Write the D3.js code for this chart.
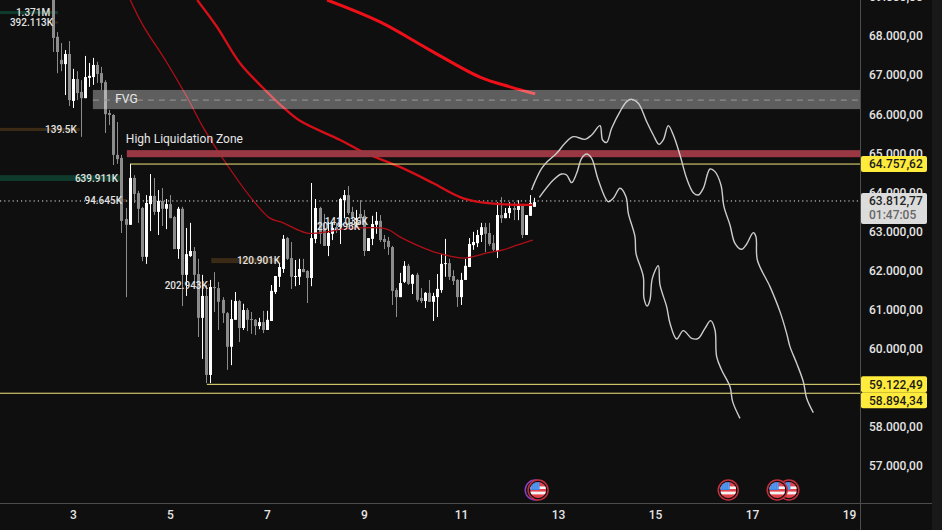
<!DOCTYPE html>
<html>
<head>
	<meta charset="utf-8">
	<style>
		html, body {
			margin: 0;
			background: #0f0f0f;
			overflow: hidden;
		}

		svg {
			display: block;
			font-family: "Open Sans", sans-serif;
		}

		.axis path, .axis line {
			display: none;
		}

		.axis text {
			font: 500 12px Roboto, sans-serif;
			fill: #e4e4e4;
		}

		.volume text {
			font: 500 10px Roboto, sans-serif;
			fill: #e2e2e2;
		}

		.note {
			font: 400 12px Roboto, sans-serif;
			fill: #e8e8e8;
		}

		.tagText {
			font: 500 12px Roboto, sans-serif;
		}
	</style>
</head>

<body>
	<svg width="942" height="530"></svg>
	<script src="https://d3js.org/d3.v7.min.js"></script>
	<script>
		// 2h candles
		var firstCandleDay = 2.5833, candleStep = 1 / 12;

		var highs = [69500, 68100, 67820, 67640, 67870, 67160, 67100, 66870, 67490, 67310, 67440, 67340, 67210,
			66870, 66110, 66000, 65800, 64960, 63600, 64730, 64440, 64040, 63630, 63930, 64470, 64370, 64060, 64110, 63830, 63930, 63400, 63630, 63630, 63090, 63220, 62600,
			62300, 61890, 61630, 61760, 61960, 61710, 61320, 60940, 61250, 61450, 61250, 61150, 61040, 60940, 60760, 60790, 60970, 60970, 61630, 61860, 62190, 62910, 62860,
			62730, 62270, 62300, 62300, 62010, 64240, 63830, 63630, 63450, 63240, 63240, 63220, 63860, 64060, 64160, 63630, 63550, 63800, 63550, 62830, 63400, 63500, 63420,
			62910, 62860, 62630, 61550, 61940, 62240, 62170, 61910, 61940, 61550, 61450, 61760, 61430, 61910, 62420, 62810, 62300, 62010, 61780, 61940, 62300, 62830, 62990, 63040, 63220,
			63220, 63220, 62910, 63750, 63880, 63600, 63750, 63750, 63800, 63680, 63420, 63930, 63860];
		var opens = [69300, 67980, 67390, 67280, 67540, 66340, 66900, 66570, 66410, 66930, 66950, 67260, 67050,
			66820, 66030, 65980, 64960, 64880, 63320, 63170, 64370, 63980, 63600, 62350, 63700, 63910, 63500, 63780, 63580, 63700, 63370, 62550, 63580, 61890, 62370, 62500,
			61910, 60790, 61350, 59330, 61580, 61550, 61250, 60910, 60050, 60740, 61220, 60530, 60990, 60760, 60740, 60580, 60680, 60480, 60710, 61450, 61840, 62040, 62830,
			62320, 61840, 61840, 62040, 61990, 61810, 62810, 63600, 63090, 62630, 62940, 63110, 63110, 63800, 63930, 63500, 63290, 63450, 63400, 62500, 62810, 63170, 63270,
			62810, 62760, 62600, 61500, 61320, 61710, 62120, 61660, 61890, 61300, 61220, 61430, 61200, 61320, 61500, 62170, 62190, 61860, 61760, 61320, 61760, 62090, 62650, 62700, 62910,
			63110, 62960, 62700, 62500, 63420, 63340, 63470, 63600, 63550, 63650, 62910, 63400, 63630];
		var closes = [67950, 67590, 67280, 67540, 66360, 66900, 66540, 66410, 66950, 66980, 67260, 67030, 66800,
			66000, 65980, 64960, 64850, 63270, 63170, 64370, 63960, 63580, 62350, 63730, 63910, 63500, 63780, 63580, 63700, 63340, 62550, 63580, 61890, 62420, 62500, 61890,
			60790, 61350, 59330, 61580, 61550, 61200, 60910, 60050, 60760, 61220, 60530, 60990, 60740, 60740, 60580, 60680, 60480, 60740, 61480, 61860, 62090, 62810, 62300,
			61840, 61860, 62040, 61960, 61810, 62830, 63600, 62940, 62630, 62960, 63090, 63040, 63830, 63930, 63470, 63370, 63340, 63340, 62500, 62830, 63190, 63270, 62780,
			62730, 62600, 61480, 61320, 61680, 62120, 61660, 61890, 61250, 61220, 61430, 61200, 61350, 61530, 62170, 62190, 61840, 61730, 61320, 61760, 62120, 62680, 62730, 62910, 63110,
			62940, 62680, 62530, 63420, 63340, 63470, 63600, 63550, 63650, 62910, 63420, 63730, 63750];
		var lows = [67590, 67050, 67100, 66490, 66210, 66160, 66360, 65420, 66410, 66700, 66750, 66800, 66620,
			65520, 65720, 64700, 64730, 62960, 61320, 63170, 63730, 63220, 62240, 62170, 63010, 63420, 62910, 63140, 63060, 63340, 62550, 62300, 61090, 61350, 62350, 61680,
			60300, 59740, 59120, 59120, 60940, 60480, 60660, 59460, 59580, 60740, 60170, 60480, 60450, 60380, 60350, 60500, 60400, 60480, 60710, 61400, 61580, 61940, 62270,
			61530, 61600, 61630, 61960, 61170, 61600, 62700, 62680, 62630, 62370, 62780, 62960, 62680, 63340, 63420, 63170, 63090, 63170, 62370, 62500, 62650, 62940, 62730,
			62550, 62400, 61120, 60810, 61320, 61680, 61630, 61400, 61200, 61170, 61040, 61200, 60710, 60810, 61430, 61840, 61760, 61630, 61070, 61120, 61760, 62090, 62530, 62600, 62730,
			62470, 62630, 62500, 62320, 63220, 63340, 63340, 63290, 63290, 62830, 62910, 63400, 63630];

		// moving averages, thin to thick
		var maFastDays = [4.18, 4.44, 4.94, 5.35, 5.68, 6.18, 6.71, 7.06, 7.33, 7.82, 8.24, 8.57, 9.47, 9.74, 10.09, 10.51, 11.08, 11.54, 11.87, 12.15, 12.48];
		var maFast = [68920, 68280, 67310, 66440, 65670, 64700, 63800, 63340, 63220, 62960, 62990, 63060, 63060, 62860, 62650, 62450, 62320, 62450, 62530, 62650, 62780];
		var maMidDays = [5.56, 5.97, 6.44, 6.92, 7.33, 7.68, 8.51, 9.02, 9.74, 10.42, 10.98, 11.39, 11.8, 12.48];
		var maMid = [68920, 68230, 67310, 66670, 66180, 65830, 65340, 65010, 64650, 64240, 63880, 63750, 63700, 63680];
		var maSlowDays = [8.24, 9.33, 10.36, 11.39, 12.01, 12.53];
		var maSlow = [68920, 68360, 67640, 66950, 66700, 66520];

		// hand drawn projections
		var pathADays = [12.456, 12.525, 12.663, 12.8, 12.972, 13.144, 13.316, 13.556, 13.694, 13.866, 13.92, 14.003, 14.106, 14.278, 14.415, 14.518, 14.656, 14.828, 14.965, 15.082, 15.171, 15.274, 15.378, 15.515, 15.652, 15.79, 15.893, 15.996, 16.134, 16.237, 16.36, 16.422, 16.546, 16.649, 16.786, 16.89, 17.027, 17.082, 17.11, 17.371, 17.577, 17.714, 17.783, 17.921, 18.058, 18.127, 18.264];
		var pathAPrices = [64061, 64274, 64615, 64811, 64999, 65255, 65425, 65357, 65468, 65707, 65340, 65280, 65638, 66065, 66321, 66380, 66278, 65809, 65468, 65229, 65340, 65707, 65468, 64956, 64359, 63993, 63933, 64104, 64598, 64530, 64189, 63635, 63166, 62697, 62543, 62680, 62969, 62867, 62270, 61588, 60949, 60394, 60053, 59627, 59158, 58732, 58365];
		var pathBDays = [12.615, 12.903, 13.075, 13.178, 13.281, 13.384, 13.487, 13.591, 13.694, 13.831, 14.037, 14.14, 14.278, 14.402, 14.45, 14.587, 14.608, 14.759, 14.773, 14.841, 14.896, 14.945, 15.068, 15.103, 15.24, 15.309, 15.446, 15.584, 15.756, 15.893, 16.03, 16.147, 16.237, 16.271, 16.374, 16.546, 16.601, 16.752];
		var pathBPrices = [63873, 64317, 64470, 64445, 64249, 64487, 64871, 64982, 64871, 64317, 63762, 63848, 64104, 63890, 63464, 62867, 62441, 61844, 61290, 61094, 61247, 61801, 62125, 61631, 61076, 60650, 60249, 60463, 60266, 60266, 60522, 60718, 60480, 59797, 59456, 59030, 58646, 58220];

		// axes
		var priceTicks = [69000, 68000, 67000, 66000, 65000, 64000, 63000, 62000, 61000, 60000, 58000, 57000];
		var dayTicks = [3, 5, 7, 9, 11, 13, 15, 17, 19];

		// horizontal levels
		var levelPrices = [64757.62, 59122.49, 58894.34];
		var levelStartDays = [4.18, 5.76, 1.49];
		var lastPrice = 63812.77, countdown = "01:47:05";

		// zones
		var fvgTop = 66620, fvgBottom = 66130, fvgMid = 66360, fvgStart = 3.41;
		var liqTop = 65080, liqBottom = 64900, liqStart = 4.11;

		// volume tags
		var volumeNames = ["1.371M", "392.113K", "139.5K", "639.911K", "94.645K", "120.901K", "202.943K", "141.036K", "201.996K"];
		var volumeSides = ["buy", "sell", "sell", "buy", "sell", "sell", "sell", "sell", "sell"];
		var volumeHighs = [68640, 68370, 65650, 64440, 63830, 62320, 61660, 63260, 63130];
		var volumeLows = [68560, 68320, 65570, 64290, 63750, 62190, 61600, 63230, 63100];
		var volumeStarts = [1.49, 2.59, 1.49, 1.49, 4.01, 5.85, 5.78, 9.08, 8.92];
		var volumeEnds = [2.69, 2.69, 3.14, 4.01, 4.11, 7.27, 5.82, 9.08, 8.92];
		var volumeTextEnds = [2.53, 2.59, 3.08, 3.93, 4.01, 7.27, 5.78, 9.08, 8.92];

		// calendar events
		var eventDays = [12.53, 12.59, 16.51, 17.76, 17.52];
		var eventKinds = ["other", "us", "us", "us", "us"];

		var candles = d3.range(highs.length).map(function (i) {
			return { day: firstCandleDay + i * candleStep, h: highs[i], o: opens[i], c: closes[i], l: lows[i] };
		});

		var svg = d3.select("svg");

		var x = d3.scaleLinear().domain([3, 19]).range([73, 849]);
		var y = d3.scaleLinear().domain([68000, 57000]).range([36, 466]);

		var grey = "#8c8c8c";
		var plotRight = 860, plotBottom = 503;

		svg.append("defs").append("clipPath").attr("id", "plot")
			.append("rect").attr("width", plotRight).attr("height", plotBottom);
		svg.select("defs").append("clipPath").attr("id", "flagClip")
			.append("circle").attr("r", 8);

		var g = svg.append("g").attr("clip-path", "url(#plot)");

		// volume bars sit behind the candles
		var volume = g.append("g").attr("class", "volume");
		volume.selectAll("rect")
			.data(volumeNames)
			.enter().append("rect")
			.attr("x", function (d, i) { return x(volumeStarts[i]); })
			.attr("width", function (d, i) { return x(volumeEnds[i]) - x(volumeStarts[i]); })
			.attr("y", function (d, i) { return y(volumeHighs[i]); })
			.attr("height", function (d, i) { return y(volumeLows[i]) - y(volumeHighs[i]); })
			.attr("fill", function (d, i) { return volumeSides[i] == "buy" ? "#0f3b2c" : "#3a2a16"; });

		// dotted last price
		g.append("line")
			.attr("x1", 0).attr("x2", plotRight)
			.attr("y1", y(lastPrice) + 1.3).attr("y2", y(lastPrice) + 1.3)
			.attr("stroke", "#e8e8e8")
			.attr("stroke-dasharray", "1.2,3");

		// Candles
		var candle = g.selectAll(".candle")
			.data(candles)
			.enter().append("g")
			.attr("class", "candle")
			.attr("fill", function (d) { return d.c >= d.o ? "#ffffff" : grey; });

		candle.append("rect")
			.attr("x", function (d) { return Math.round(x(d.day)); })
			.attr("width", 1)
			.attr("y", function (d) { return y(d.h); })
			.attr("height", function (d) { return y(d.l) - y(d.h); });

		candle.append("rect")
			.attr("x", function (d) { return Math.round(x(d.day)) - 1; })
			.attr("width", 3)
			.attr("y", function (d) { return y(Math.max(d.o, d.c)); })
			.attr("height", function (d) { return Math.max(1, Math.abs(y(d.o) - y(d.c))); });

		// Moving averages
		var line = d3.line()
			.x(function (d) { return x(d[0]); })
			.y(function (d) { return y(d[1]); })
			.curve(d3.curveCatmullRom.alpha(0.5));

		function drawLine(days, prices, color, w) {
			g.append("path")
				.attr("d", line(d3.zip(days, prices)))
				.attr("fill", "none")
				.attr("stroke", color)
				.attr("stroke-width", w);
		}

		drawLine(maFastDays, maFast, "#b00f18", 1.3);
		drawLine(maMidDays, maMid, "#d40f18", 2.4);
		drawLine(maSlowDays, maSlow, "#ee1019", 3);

		// FVG box
		g.append("rect")
			.attr("x", x(fvgStart))
			.attr("width", plotRight - x(fvgStart))
			.attr("y", y(fvgTop))
			.attr("height", y(fvgBottom) - y(fvgTop))
			.attr("fill", "rgba(255,255,255,0.33)");

		g.append("line")
			.attr("x1", x(fvgStart)).attr("x2", plotRight)
			.attr("y1", y(fvgMid)).attr("y2", y(fvgMid))
			.attr("stroke", "#989898")
			.attr("stroke-dasharray", "6,5");

		// Liquidation zone
		g.append("rect")
			.attr("x", x(liqStart))
			.attr("width", plotRight - x(liqStart))
			.attr("y", y(liqTop))
			.attr("height", y(liqBottom) - y(liqTop))
			.attr("fill", "#993843");

		// Levels
		var levels = g.append("g").attr("transform", "translate(0,1.3)");
		levels.selectAll("line")
			.data(levelPrices)
			.enter().append("line")
			.attr("x1", function (d, i) { return x(levelStartDays[i]); })
			.attr("x2", plotRight)
			.attr("y1", function (d) { return y(d); })
			.attr("y2", function (d) { return y(d); })
			.attr("stroke", "#f4e77e");

		// Projections
		drawLine(pathADays, pathAPrices, "#cccccc", 1.4);
		drawLine(pathBDays, pathBPrices, "#cccccc", 1.4);

		// Notes
		g.append("text").attr("class", "note")
			.attr("x", x(3.87)).attr("y", y(66390)).attr("dy", ".35em")
			.text("FVG");
		g.append("text").attr("class", "note")
			.attr("x", x(4.09)).attr("y", y(65365)).attr("dy", ".35em")
			.text("High Liquidation Zone");

		// volume labels above everything
		var volumeLabels = g.append("g").attr("class", "volume");
		volumeLabels.selectAll("text")
			.data(volumeNames)
			.enter().append("text")
			.attr("x", function (d, i) { return x(volumeTextEnds[i]); })
			.attr("y", function (d, i) { return y((volumeHighs[i] + volumeLows[i]) / 2); })
			.attr("dy", ".35em")
			.attr("text-anchor", "end")
			.text(String);

		// Events
		var event = g.selectAll(".event")
			.data(eventDays)
			.enter().append("g")
			.attr("class", "event")
			.attr("transform", function (d) { return "translate(" + x(d) + ",490)"; });

		event.append("circle")
			.attr("r", 10)
			.attr("fill", "#0f0f0f")
			.attr("stroke", function (d, i) { return eventKinds[i] == "us" ? "#c4303e" : "#8a3fc0"; })
			.attr("stroke-width", 1.5);

		var flag = event.filter(function (d, i) { return eventKinds[i] == "us"; })
			.append("g").attr("clip-path", "url(#flagClip)");
		flag.append("rect").attr("x", -8).attr("y", -8).attr("width", 16).attr("height", 16).attr("fill", "#e4434b");
		flag.append("rect").attr("x", -8).attr("y", -3.6).attr("width", 16).attr("height", 2.6).attr("fill", "#f4f4f4");
		flag.append("rect").attr("x", -8).attr("y", 1.6).attr("width", 16).attr("height", 2.8).attr("fill", "#f4f4f4");
		flag.append("rect").attr("x", -8).attr("y", -8).attr("width", 9.5).attr("height", 8).attr("fill", "#3d86e8");
		d3.range(3).forEach(function (r) {
			flag.append("path")
				.attr("d", "M-7," + (-6 + r * 2) + "H1")
				.attr("stroke", "#a8ccf5")
				.attr("stroke-width", .8)
				.attr("stroke-dasharray", "1,1.2");
		});

		// Axis frame
		svg.append("rect").attr("x", 932).attr("width", 10).attr("height", 530).attr("fill", "#191919");
		svg.append("line")
			.attr("x1", plotRight + .5).attr("x2", plotRight + .5)
			.attr("y1", 0).attr("y2", 530)
			.attr("stroke", "#4c4c4c");
		svg.append("line")
			.attr("x1", 0).attr("x2", 932)
			.attr("y1", plotBottom + .5).attr("y2", plotBottom + .5)
			.attr("stroke", "#4c4c4c");

		var locale = d3.formatLocale({ decimal: ",", thousands: ".", grouping: [3], currency: ["", ""] });
		var priceFormat = locale.format(",.2f");

		svg.append("g")
			.attr("class", "axis")
			.attr("transform", "translate(" + (plotRight + 9) + ",0)")
			.call(d3.axisRight(y).tickValues(priceTicks).tickFormat(priceFormat).tickSize(0).tickPadding(0));

		svg.append("g")
			.attr("class", "axis")
			.attr("transform", "translate(0," + (plotBottom + 7) + ")")
			.call(d3.axisBottom(x).tickValues(dayTicks).tickSize(0).tickPadding(0));

		// Price tags, pushed down when two would collide
		var tagY = [];
		levelPrices.forEach(function (p, i) {
			var pos = y(p) + 1.3;
			tagY.push(i > 0 && pos - tagY[i - 1] < 16 ? tagY[i - 1] + 16 : pos);
		});

		var tag = svg.selectAll(".tag")
			.data(levelPrices)
			.enter().append("g")
			.attr("class", "tag")
			.attr("transform", function (d, i) { return "translate(" + (plotRight + 1) + "," + tagY[i] + ")"; });

		tag.append("rect")
			.attr("y", -8)
			.attr("width", 66)
			.attr("height", 16)
			.attr("rx", 2)
			.attr("fill", "#ffeb3b");

		tag.append("text")
			.attr("class", "tagText")
			.attr("x", 8)
			.attr("dy", ".35em")
			.attr("fill", "#1a1a1a")
			.text(function (d) { return priceFormat(d); });

		var last = svg.append("g")
			.attr("transform", "translate(" + (plotRight + 1) + "," + (y(lastPrice) + 1.3) + ")");

		last.append("rect")
			.attr("y", -8)
			.attr("width", 66)
			.attr("height", 31)
			.attr("rx", 2)
			.attr("fill", "#dcdcdc");

		last.append("text")
			.attr("class", "tagText")
			.attr("x", 8)
			.attr("dy", ".35em")
			.attr("fill", "#222")
			.text(priceFormat(lastPrice));

		last.append("text")
			.attr("class", "tagText")
			.attr("x", 8)
			.attr("y", 14)
			.attr("dy", ".35em")
			.attr("fill", "#666")
			.text(countdown);
	</script>
</body>
</html>
